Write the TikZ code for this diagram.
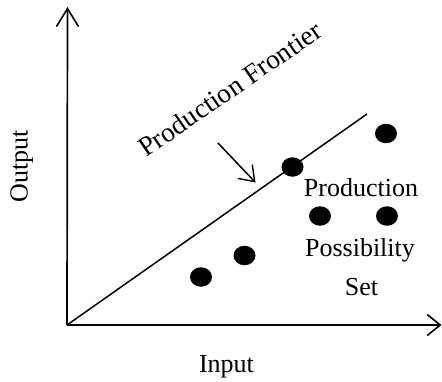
\documentclass[tikz,border=0pt]{standalone}
\usepackage{fontspec}
\setmainfont{Liberation Serif}
\usetikzlibrary{arrows.meta,shapes.geometric}
\begin{document}
\begin{tikzpicture}[x={(1pt,0)},y={(0,-1pt)},
  axisline/.style={line width=1.7pt},
  frontline/.style={line width=1.5pt},
  dotmark/.style={ellipse,fill=black,inner sep=0pt,minimum width=22pt,minimum height=19.5pt},
  lbl/.style={font=\fontsize{26}{30}\selectfont,inner sep=0pt},
  setlbl/.style={lbl,align=center}]
\useasboundingbox (0,0) rectangle (442,381);
% axes
\coordinate (O) at (67,325);
\coordinate (ytop) at (67.5,7);
\coordinate (xend) at (441.5,325);
\draw[axisline,-{Straight Barb[length=18pt,width=22pt,line width=1.6pt]}] (O) -- (ytop);
\draw[axisline,-{Straight Barb[length=13pt,width=21pt,line width=1.6pt]}] (O) -- (xend);
% frontier
\coordinate (fend) at (367,114);
\draw[frontline] (O) -- (fend);
% observations
\node[dotmark] (d1) at (386,133.5) {};
\node[dotmark] (d2) at (292.5,167) {};
\node[dotmark] (d3) at (320,216) {};
\node[dotmark] (d4) at (387,216) {};
\node[dotmark] (d5) at (244.5,255.5) {};
\node[dotmark] (d6) at (201,277) {};
% labels
\node[lbl,font=\fontsize{27.5}{32}\selectfont,anchor=base west,rotate=34.5] (flabel) at (146,158) {Production Frontier};
\coordinate (atail) at (218,143);
\coordinate (ahead) at (255.5,182.5);
\draw[frontline,-{Straight Barb[length=14pt,width=20pt,line width=1.4pt]}] (atail) -- (ahead);
\node[lbl,anchor=base] (pset1) at (361,196.5) {Production};
\node[lbl,anchor=base] (pset2) at (360,256.5) {Possibility};
\node[lbl,anchor=base] (pset3) at (361.5,295) {Set};
\node[lbl,anchor=base] (xlabel) at (226.5,372.5) {Input};
\node[lbl,anchor=base,rotate=90] (ylabel) at (27.5,166.5) {Output};
\end{tikzpicture}
\end{document}
